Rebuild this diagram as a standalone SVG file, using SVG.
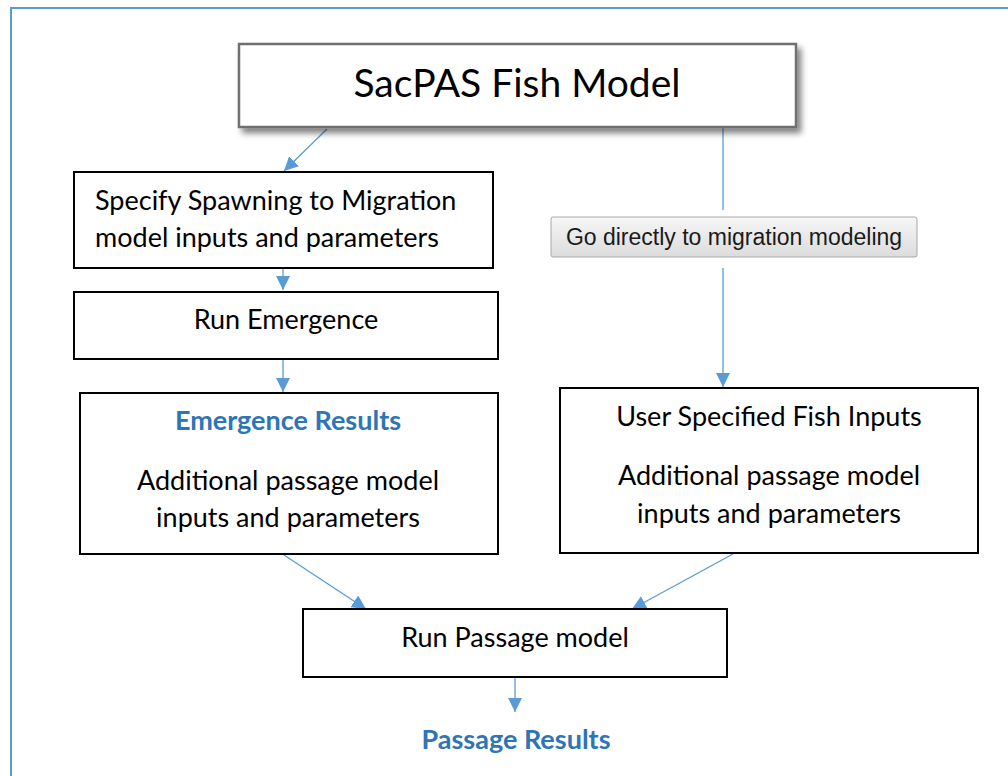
<svg xmlns="http://www.w3.org/2000/svg" width="1008" height="776" viewBox="0 0 1008 776">
  <defs>
    <marker id="ah" markerWidth="14" markerHeight="14" viewBox="0 0 14 14" refX="14" refY="7" orient="auto" markerUnits="userSpaceOnUse">
      <path d="M0,0 L14,7 L0,14 Z" fill="#5B9BD5"/>
    </marker>
    <filter id="sh" x="-10%" y="-20%" width="130%" height="150%">
      <feGaussianBlur in="SourceAlpha" stdDeviation="3"/>
      <feOffset dx="4" dy="5" result="b"/>
      <feComponentTransfer><feFuncA type="linear" slope="0.5"/></feComponentTransfer>
      <feMerge><feMergeNode/><feMergeNode in="SourceGraphic"/></feMerge>
    </filter>
    <linearGradient id="btn" x1="0" y1="0" x2="0" y2="1">
      <stop offset="0" stop-color="#f6f6f6"/>
      <stop offset="1" stop-color="#dcdcdc"/>
    </linearGradient>
  </defs>
  <style>
    .box { fill: #ffffff; stroke: #000000; stroke-width: 2; }
    .t { font-family: Lato, "Open Sans", sans-serif; font-size: 27px; fill: #000000; }
    .title { font-size: 39px; }
    .c { text-anchor: middle; }
    .b { font-weight: bold; fill: #2E75B6; }
    .con { stroke: #5B9BD5; stroke-width: 1.3; fill: none; }
  </style>
  <rect x="11" y="8" width="1010" height="800" fill="#ffffff" stroke="#5B9BD5" stroke-width="2"/>

  <g id="connectors">
    <line class="con" x1="327" y1="129" x2="284" y2="171" marker-end="url(#ah)"/>
    <line class="con" x1="723" y1="128" x2="723" y2="210"/>
    <line class="con" x1="723" y1="268" x2="723" y2="387" marker-end="url(#ah)"/>
    <line class="con" x1="283" y1="269" x2="283" y2="290" marker-end="url(#ah)"/>
    <line class="con" x1="283" y1="360" x2="283" y2="392" marker-end="url(#ah)"/>
    <line class="con" x1="284" y1="555" x2="366" y2="609" marker-end="url(#ah)"/>
    <line class="con" x1="733" y1="554" x2="632" y2="609" marker-end="url(#ah)"/>
    <line class="con" x1="515" y1="678" x2="515" y2="712" marker-end="url(#ah)"/>
  </g>

  <g id="title">
    <rect x="239" y="44" width="557" height="83" fill="#ffffff" stroke="#6f6f6f" stroke-width="2.5" filter="url(#sh)"/>
    <text class="t c title" x="517" y="97">SacPAS Fish Model</text>
  </g>

  <g id="specify">
    <rect class="box" x="74" y="172" width="419" height="96"/>
    <text class="t" x="95" y="210">Specify Spawning to Migration</text>
    <text class="t" x="95" y="247">model inputs and parameters</text>
  </g>

  <g id="button">
    <rect x="551" y="217" width="366" height="40" rx="2" fill="url(#btn)" stroke="#a8a8a8" stroke-width="1"/>
    <text x="734" y="245" text-anchor="middle" font-family="Liberation Sans, Arial, sans-serif" font-size="23" fill="#1a1a1a">Go directly to migration modeling</text>
  </g>

  <g id="run-emergence">
    <rect class="box" x="74" y="292" width="424" height="67"/>
    <text class="t c" x="286" y="329">Run Emergence</text>
  </g>

  <g id="emergence-results">
    <rect class="box" x="80" y="393" width="418" height="161"/>
    <text class="t c b" x="288" y="430">Emergence Results</text>
    <text class="t c" x="288" y="490">Additional passage model</text>
    <text class="t c" x="288" y="527">inputs and parameters</text>
  </g>

  <g id="user-inputs">
    <rect class="box" x="560" y="388" width="418" height="165"/>
    <text class="t c" x="769" y="426">User Specified Fish Inputs</text>
    <text class="t c" x="769" y="485">Additional passage model</text>
    <text class="t c" x="769" y="523">inputs and parameters</text>
  </g>

  <g id="run-passage">
    <rect class="box" x="303" y="609" width="424" height="68"/>
    <text class="t c" x="515" y="647">Run Passage model</text>
  </g>

  <g id="passage-results">
    <text class="t c b" x="516" y="749">Passage Results</text>
  </g>
</svg>
